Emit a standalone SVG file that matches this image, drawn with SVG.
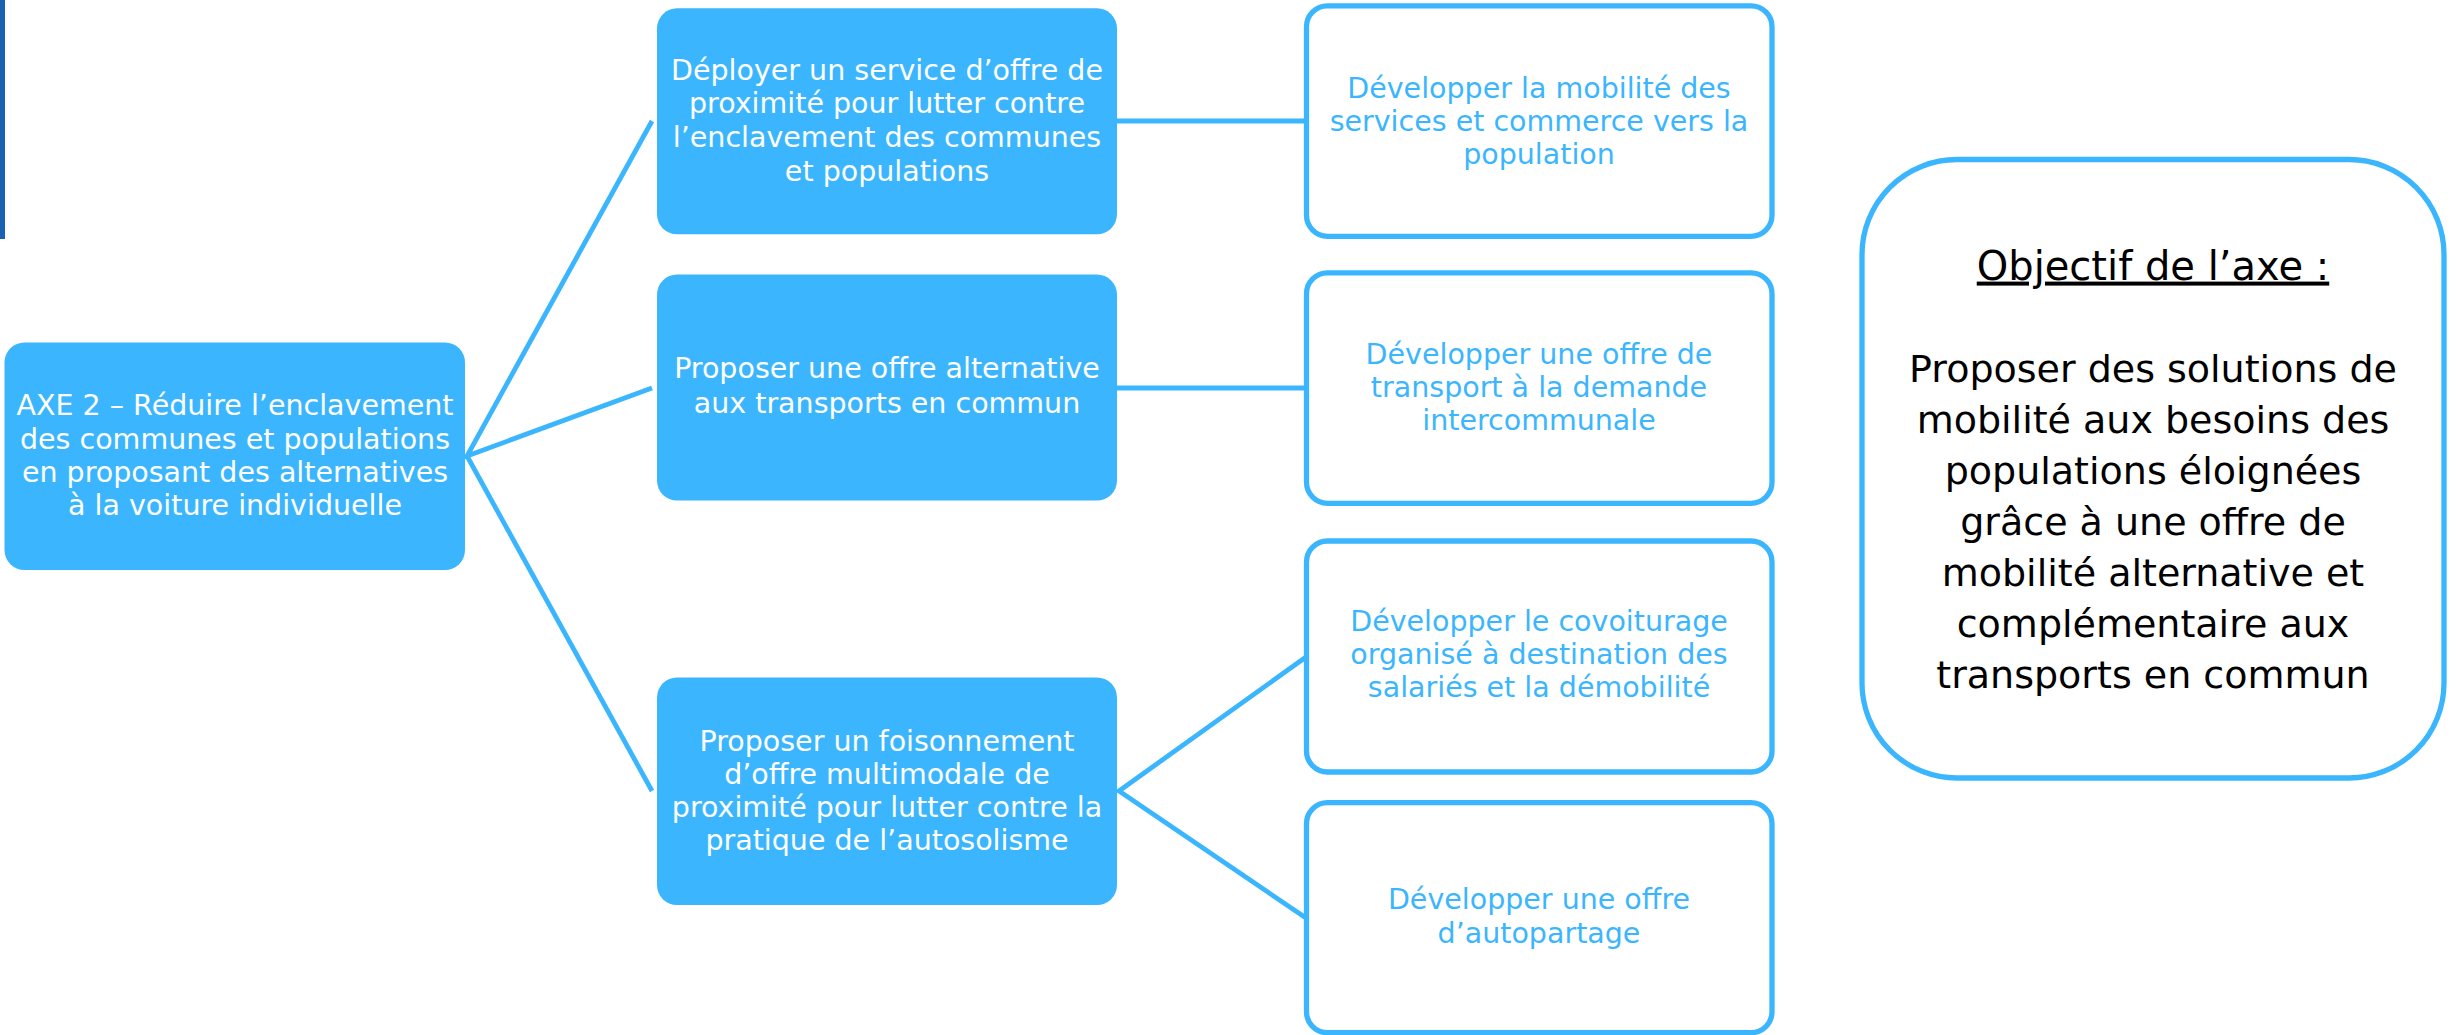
<svg xmlns="http://www.w3.org/2000/svg" width="2458" height="1035" viewBox="0 0 2458 1035">
<style>
.bg{fill:#ffffff}
.filled{fill:#3BB6FE}
.outline{fill:#ffffff;stroke:#3BB6FE;stroke-width:5.3}
.conn{stroke:#3BB6FE;stroke-width:4.8;fill:none;stroke-linecap:butt;stroke-linejoin:miter}
.t{font-family:"DejaVu Sans","Liberation Sans",sans-serif;font-size:28.5px;text-anchor:middle}
.w{fill:#ffffff}
.b{fill:#3BB6FE}
.obj{font-family:"DejaVu Sans","Liberation Sans",sans-serif;font-size:38px;text-anchor:middle;fill:#000000}
</style>
<rect class="bg" x="0" y="0" width="2458" height="1035"/>
<rect x="0" y="0" width="5" height="239" fill="#1A62B3"/>

<g id="connectors">
<polyline class="conn" points="652,121 467,456 652,388"/>
<line class="conn" x1="467" y1="456" x2="652" y2="791"/>
<line class="conn" x1="1117" y1="121" x2="1306" y2="121"/>
<line class="conn" x1="1117" y1="388" x2="1306" y2="388"/>
<polyline class="conn" points="1306,657 1119,791 1306,918"/>
</g>

<g id="axe2">
<rect class="filled" x="4.5" y="342.5" width="460.5" height="227.5" rx="20"/>
<text class="t w"><tspan x="235" y="415">AXE 2 – Réduire l’enclavement</tspan><tspan x="235" y="448.5">des communes et populations</tspan><tspan x="235" y="481.5">en proposant des alternatives</tspan><tspan x="235" y="514.5">à la voiture individuelle</tspan></text>
</g>

<g id="n-deployer">
<rect class="filled" x="657" y="8.3" width="460" height="226" rx="20"/>
<text class="t w"><tspan x="887" y="79.6">Déployer un service d’offre de</tspan><tspan x="887" y="113.3">proximité pour lutter contre</tspan><tspan x="887" y="147">l’enclavement des communes</tspan><tspan x="887" y="180.7">et populations</tspan></text>
</g>

<g id="n-alternative">
<rect class="filled" x="657" y="274.6" width="460" height="226" rx="20"/>
<text class="t w"><tspan x="887" y="378">Proposer une offre alternative</tspan><tspan x="887" y="412.5">aux transports en commun</tspan></text>
</g>

<g id="n-foisonnement">
<rect class="filled" x="657" y="677.4" width="460" height="227.6" rx="20"/>
<text class="t w"><tspan x="887" y="750.8">Proposer un foisonnement</tspan><tspan x="887" y="783.8">d’offre multimodale de</tspan><tspan x="887" y="816.8">proximité pour lutter contre la</tspan><tspan x="887" y="849.8">pratique de l’autosolisme</tspan></text>
</g>

<g id="n-mobilite-services">
<rect class="outline" x="1306.5" y="5.8" width="465.5" height="230.5" rx="21"/>
<text class="t b"><tspan x="1539" y="97.8">Développer la mobilité des</tspan><tspan x="1539" y="131">services et commerce vers la</tspan><tspan x="1539" y="164.2">population</tspan></text>
</g>

<g id="n-tad">
<rect class="outline" x="1306.5" y="272.8" width="465.5" height="230.5" rx="21"/>
<text class="t b"><tspan x="1539" y="363.8">Développer une offre de</tspan><tspan x="1539" y="397">transport à la demande</tspan><tspan x="1539" y="430.2">intercommunale</tspan></text>
</g>

<g id="n-covoiturage">
<rect class="outline" x="1306.5" y="541" width="465.5" height="231" rx="21"/>
<text class="t b"><tspan x="1539" y="631.4">Développer le covoiturage</tspan><tspan x="1539" y="664.4">organisé à destination des</tspan><tspan x="1539" y="697.4">salariés et la démobilité</tspan></text>
</g>

<g id="n-autopartage">
<rect class="outline" x="1306.5" y="802.7" width="465.5" height="230" rx="21"/>
<text class="t b"><tspan x="1539" y="909.4">Développer une offre</tspan><tspan x="1539" y="942.5">d’autopartage</tspan></text>
</g>

<g id="objectif">
<rect x="1862" y="159.5" width="582" height="618.5" rx="95" fill="#ffffff" stroke="#3BB6FE" stroke-width="5.3"/>
<text class="obj" x="2153" y="279.6" style="font-size:40px" text-decoration="underline">Objectif de l’axe :</text>
<text class="obj"><tspan x="2153" y="381.5">Proposer des solutions de</tspan><tspan x="2153" y="432.5">mobilité aux besoins des</tspan><tspan x="2153" y="483.5">populations éloignées</tspan><tspan x="2153" y="534.5">grâce à une offre de</tspan><tspan x="2153" y="585.5">mobilité alternative et</tspan><tspan x="2153" y="636.5">complémentaire aux</tspan><tspan x="2153" y="687.5">transports en commun</tspan></text>
</g>
</svg>
